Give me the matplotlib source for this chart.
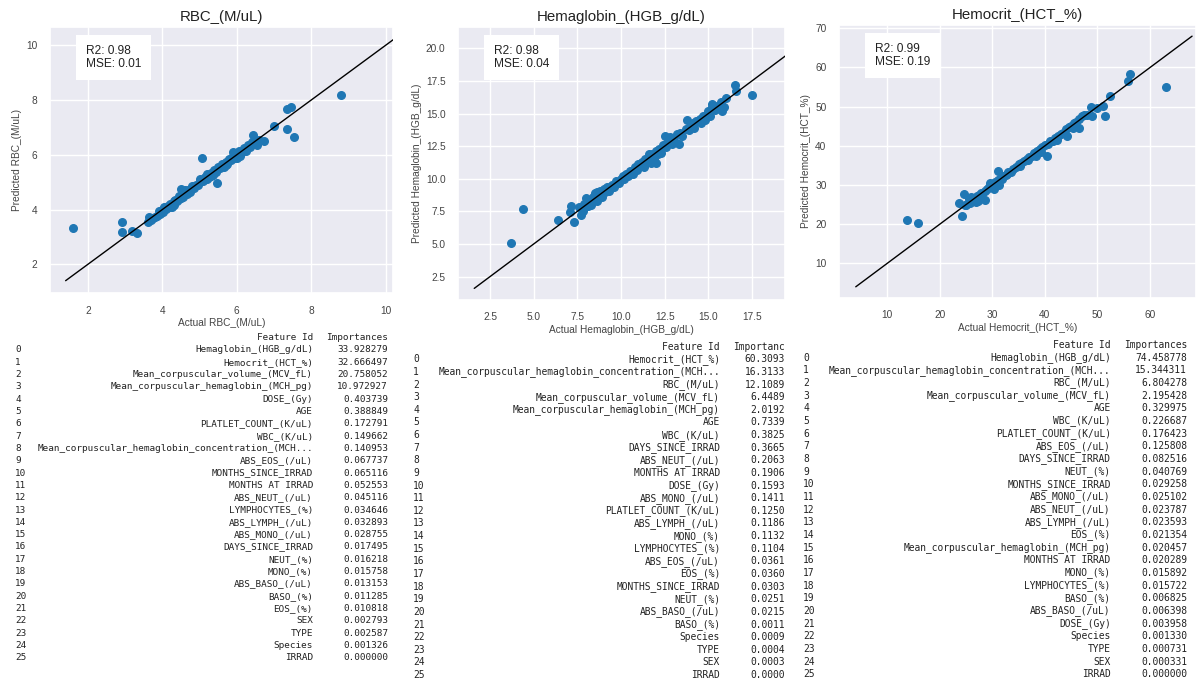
import matplotlib
matplotlib.use("Agg")
import matplotlib.pyplot as plt
import seaborn as sns

sns.set_theme(style="darkgrid")
plt.rcParams["font.family"] = ["Liberation Sans", "DejaVu Sans"]

W, H = 1196, 679

# ---- scatter data (actual vs predicted) ----
rbc_actual = [1.6, 2.92, 2.91, 3.19, 3.32, 5.06, 5.46, 7.01, 7.35, 7.46, 7.36, 7.55, 8.8, 6.72, 6.45,
              3.62, 3.65, 3.7, 3.75, 3.8, 3.85, 3.95, 4.0, 4.02, 4.05, 4.1, 4.15, 4.2, 4.2, 4.3, 4.3,
              4.35, 4.4, 4.45, 4.5, 4.5, 4.55, 4.6, 4.6, 4.65, 4.7, 4.75, 4.8, 4.85, 4.9, 4.95, 5.0,
              5.0, 5.1, 5.15, 5.2, 5.2, 5.25, 5.3, 5.35, 5.4, 5.45, 5.5, 5.55, 5.6, 5.65, 5.7, 5.75,
              5.8, 5.85, 5.9, 5.9, 5.95, 6.0, 6.05, 6.1, 6.15, 6.2, 6.25, 6.3, 6.35, 6.4, 6.45, 6.5,
              6.6, 6.55, 3.9, 4.25, 4.45, 5.3, 5.7, 6.0]
rbc_pred = [3.31, 3.55, 3.19, 3.23, 3.13, 5.89, 4.98, 7.06, 7.69, 7.75, 6.96, 6.66, 8.18, 6.5, 6.72,
            3.55, 3.72, 3.62, 3.7, 3.72, 3.78, 3.85, 4.0, 3.9, 4.1, 4.02, 4.12, 4.2, 4.08, 4.3, 4.15,
            4.35, 4.3, 4.5, 4.75, 4.42, 4.45, 4.6, 4.7, 4.55, 4.72, 4.65, 4.85, 4.78, 4.9, 4.88, 5.05,
            5.12, 5.05, 5.2, 5.3, 5.12, 5.2, 5.35, 5.25, 5.45, 5.38, 5.55, 5.5, 5.65, 5.55, 5.75, 5.65,
            5.85, 5.8, 5.95, 6.1, 5.88, 6.05, 6.15, 5.95, 6.1, 6.25, 6.15, 6.35, 6.3, 6.45, 6.4, 6.55,
            6.55, 6.35, 3.95, 4.1, 4.4, 5.22, 5.62, 5.9]

hgb_actual = [3.7, 4.4, 6.4, 7.1, 7.15, 7.3, 7.7,
              7.6, 7.8, 7.9, 8.0, 8.1, 8.2, 8.3, 8.4, 8.5, 8.6, 8.7, 8.8, 8.9, 9.0, 9.1, 9.2, 9.3,
              9.5, 9.6, 9.7, 9.9, 10.0, 10.1, 10.2, 10.3, 10.4, 10.5, 10.6, 10.7, 10.8, 10.9, 11.0,
              11.1, 11.2, 11.3, 11.4, 11.5, 11.6, 11.7, 11.8, 11.9, 12.0, 12.0, 12.1, 12.2, 12.3,
              12.4, 12.5, 12.6, 12.7, 12.8, 12.9, 13.0, 13.1, 13.2, 13.3, 13.4, 13.5, 13.7, 13.8,
              13.9, 14.0, 14.1, 14.2, 14.3, 14.5, 14.6, 14.7, 14.8, 14.9, 15.0, 15.1, 15.2, 15.2,
              15.4, 15.5, 15.6, 15.7, 15.8, 15.9, 16.0, 16.55, 16.6, 17.5, 8.6, 9.4, 10.5, 11.6]
hgb_pred = [5.08, 7.65, 6.85, 7.45, 7.9, 6.7, 7.2,
            7.8, 7.5, 8.1, 8.55, 7.9, 8.3, 8.0, 8.6, 8.9, 8.3, 8.7, 9.1, 8.6, 9.2, 9.0, 9.35, 9.1,
            9.5, 9.4, 9.8, 9.7, 10.0, 10.2, 10.0, 10.4, 10.2, 10.6, 10.5, 10.4, 10.9, 10.7, 11.1,
            11.0, 11.3, 10.9, 11.5, 11.3, 11.7, 11.2, 11.9, 11.5, 12.1, 11.2, 11.9, 12.3, 12.0,
            12.6, 13.3, 12.4, 12.9, 13.2, 12.7, 13.1, 12.8, 13.4, 12.7, 13.5, 13.3, 13.8, 14.5,
            13.7, 14.1, 14.3, 13.9, 14.4, 14.6, 14.3, 14.8, 14.5, 15.0, 15.2, 14.8, 15.5, 15.7,
            15.3, 15.6, 15.4, 15.9, 15.2, 15.5, 16.2, 17.2, 16.7, 16.45, 9.0, 9.3, 10.4, 11.9]

hct_actual = [13.8, 15.8, 23.7, 24.6, 24.3, 24.8,
              25.0, 25.5, 25.8, 26.0, 26.3, 26.5, 26.8, 27.0, 27.2, 27.5, 27.8, 28.0, 28.6, 28.5,
              29.0, 29.3, 29.5, 29.8, 30.0, 30.3, 30.5, 30.8, 31.0, 31.1, 31.3, 31.5, 31.8, 32.0,
              32.5, 32.8, 33.0, 33.5, 34.0, 34.5, 35.0, 35.2, 35.5, 36.0, 36.5, 36.8, 37.0, 37.5,
              38.0, 38.3, 38.5, 39.0, 39.2, 39.5, 40.0, 40.3, 40.5, 41.0, 41.5, 42.0, 42.3, 42.5,
              43.0, 43.5, 44.0, 44.2, 44.5, 45.0, 45.3, 45.5, 46.0, 46.5, 46.5, 47.0, 47.5, 48.0,
              48.8, 48.9, 50.0, 51.1, 51.4, 52.3, 55.9, 56.2, 63.0]
hct_pred = [21.0, 20.4, 25.5, 27.8, 22.1, 24.8,
            25.0, 26.3, 25.5, 27.0, 26.0, 26.8, 25.6, 27.2, 26.0, 27.5, 28.0, 27.6, 26.2, 28.5,
            29.0, 29.6, 30.5, 29.6, 30.2, 29.0, 30.7, 30.2, 31.2, 33.6, 30.1, 31.6, 31.5, 32.2,
            32.5, 32.8, 33.3, 33.4, 34.1, 34.5, 35.3, 34.8, 35.6, 36.0, 36.6, 36.3, 37.2, 37.4,
            38.2, 37.5, 38.6, 39.2, 38.5, 39.6, 40.1, 37.4, 40.4, 41.2, 41.3, 42.1, 41.5, 42.6,
            43.1, 43.4, 44.2, 42.6, 44.8, 45.1, 44.5, 45.8, 46.2, 44.5, 46.8, 47.5, 47.8, 47.9,
            49.8, 47.6, 49.6, 50.2, 47.6, 52.6, 56.6, 58.3, 55.1]

titles = ["RBC_(M/uL)", "Hemaglobin_(HGB_g/dL)", "Hemocrit_(HCT_%)"]
scores = ["R2: 0.98\nMSE: 0.01", "R2: 0.98\nMSE: 0.04", "R2: 0.99\nMSE: 0.19"]

# ---- feature importance tables ----
rbc_features = ["Hemaglobin_(HGB_g/dL)", "Hemocrit_(HCT_%)", "Mean_corpuscular_volume_(MCV_fL)",
                "Mean_corpuscular_hemaglobin_(MCH_pg)", "DOSE_(Gy)", "AGE", "PLATLET_COUNT_(K/uL)",
                "WBC_(K/uL)", "Mean_corpuscular_hemaglobin_concentration_(MCH...", "ABS_EOS_(/uL)",
                "MONTHS_SINCE_IRRAD", "MONTHS AT IRRAD", "ABS_NEUT_(/uL)", "LYMPHOCYTES_(%)",
                "ABS_LYMPH_(/uL)", "ABS_MONO_(/uL)", "DAYS_SINCE_IRRAD", "NEUT_(%)", "MONO_(%)",
                "ABS_BASO_(/uL)", "BASO_(%)", "EOS_(%)", "SEX", "TYPE", "Species", "IRRAD"]
rbc_importances = [33.928279, 32.666497, 20.758052, 10.972927, 0.403739, 0.388849, 0.172791,
                   0.149662, 0.140953, 0.067737, 0.065116, 0.052553, 0.045116, 0.034646,
                   0.032893, 0.028755, 0.017495, 0.016218, 0.015758, 0.013153, 0.011285,
                   0.010818, 0.002793, 0.002587, 0.001326, 0.000000]

hgb_features = ["Hemocrit_(HCT_%)", "Mean_corpuscular_hemaglobin_concentration_(MCH...", "RBC_(M/uL)",
                "Mean_corpuscular_volume_(MCV_fL)", "Mean_corpuscular_hemaglobin_(MCH_pg)", "AGE",
                "WBC_(K/uL)", "DAYS_SINCE_IRRAD", "ABS_NEUT_(/uL)", "MONTHS AT IRRAD", "DOSE_(Gy)",
                "ABS_MONO_(/uL)", "PLATLET_COUNT_(K/uL)", "ABS_LYMPH_(/uL)", "MONO_(%)",
                "LYMPHOCYTES_(%)", "ABS_EOS_(/uL)", "EOS_(%)", "MONTHS_SINCE_IRRAD", "NEUT_(%)",
                "ABS_BASO_(/uL)", "BASO_(%)", "Species", "TYPE", "SEX", "IRRAD"]
hgb_importances = [60.3093, 16.3133, 12.1089, 6.4489, 2.0192, 0.7339, 0.3825, 0.3665, 0.2063,
                   0.1906, 0.1593, 0.1411, 0.1250, 0.1186, 0.1132, 0.1104, 0.0361, 0.0360,
                   0.0303, 0.0251, 0.0215, 0.0011, 0.0009, 0.0004, 0.0003, 0.0000]

hct_features = ["Hemaglobin_(HGB_g/dL)", "Mean_corpuscular_hemaglobin_concentration_(MCH...", "RBC_(M/uL)",
                "Mean_corpuscular_volume_(MCV_fL)", "AGE", "WBC_(K/uL)", "PLATLET_COUNT_(K/uL)",
                "ABS_EOS_(/uL)", "DAYS_SINCE_IRRAD", "NEUT_(%)", "MONTHS_SINCE_IRRAD", "ABS_MONO_(/uL)",
                "ABS_NEUT_(/uL)", "ABS_LYMPH_(/uL)", "EOS_(%)", "Mean_corpuscular_hemaglobin_(MCH_pg)",
                "MONTHS AT IRRAD", "MONO_(%)", "LYMPHOCYTES_(%)", "BASO_(%)", "ABS_BASO_(/uL)",
                "DOSE_(Gy)", "Species", "TYPE", "SEX", "IRRAD"]
hct_importances = [74.458778, 15.344311, 6.804278, 2.195428, 0.329975, 0.226687, 0.176423,
                   0.125808, 0.082516, 0.040769, 0.029258, 0.025102, 0.023787, 0.023593,
                   0.021354, 0.020457, 0.020289, 0.015892, 0.015722, 0.006825, 0.006398,
                   0.003958, 0.001330, 0.000731, 0.000331, 0.000000]

fig = plt.figure(figsize=(W / 100, H / 100), dpi=100)
fig.patch.set_facecolor("white")


def px_axes(left, top, right, bottom):
    return fig.add_axes([left / W, 1 - bottom / H, (right - left) / W, (bottom - top) / H])


panels = [
    dict(box=(50, 27, 393, 293), x=rbc_actual, y=rbc_pred, xlim=(0.98, 10.2), ylim=(0.95, 10.67),
         line=(1.4, 10.3), xt=[2, 4, 6, 8, 10], yt=[2, 4, 6, 8, 10], name="RBC_(M/uL)"),
    dict(box=(458, 27, 785, 300), x=hgb_actual, y=hgb_pred, xlim=(0.67, 19.39), ylim=(0.71, 21.63),
         line=(1.6, 20.6), xt=[2.5, 5, 7.5, 10, 12.5, 15, 17.5], yt=[2.5, 5, 7.5, 10, 12.5, 15, 17.5, 20],
         name="Hemaglobin_(HGB_g/dL)"),
    dict(box=(839, 25, 1196, 298), x=hct_actual, y=hct_pred, xlim=(0.81, 68.75), ylim=(1.14, 70.85),
         line=(4, 68), xt=[10, 20, 30, 40, 50, 60], yt=[10, 20, 30, 40, 50, 60, 70], name="Hemocrit_(HCT_%)"),
]

for i, p in enumerate(panels):
    ax = px_axes(*p["box"])
    ax.scatter(p["x"], p["y"], s=30, color="#1f77b4", zorder=2)
    ax.plot(p["line"], p["line"], color="black", lw=1, zorder=3)
    ax.set_xlim(p["xlim"])
    ax.set_ylim(p["ylim"])
    ax.set_xticks(p["xt"])
    ax.set_yticks(p["yt"])
    if i == 1:
        ax.set_xticklabels(["%.1f" % v for v in p["xt"]])
        ax.set_yticklabels(["%.1f" % v for v in p["yt"]])
    ax.tick_params(labelsize=7.3, colors="#444444", pad=3)
    ax.set_xlabel("Actual " + p["name"], fontsize=7.3, color="#444444", labelpad=2)
    ax.set_ylabel("Predicted " + p["name"], fontsize=7.3, color="#444444", labelpad=3)
    ax.set_title(titles[i], fontsize=10.8, color="#222222", pad=4)
    ax.annotate(scores[i], xy=(0, 1), xycoords="axes fraction", xytext=(36, -18),
                textcoords="offset pixels", ha="left", va="top", fontsize=8.6, color="#222222",
                linespacing=1.15,
                bbox=dict(boxstyle="square,pad=0.8", fc="white", ec="none"))

# ---- printed dataframes ----
tables = [
    dict(feat=rbc_features, imp=rbc_importances, fmt="%.6f", head="Importances",
         ix=15, fr=313, ir=388, hy=337.5, y0=350, dy=12.31, fs=6.73),
    dict(feat=hgb_features, imp=hgb_importances, fmt="%.4f", head="Importanc",
         ix=413, fr=720, ir=785, hy=346.7, y0=359.3, dy=12.63, fs=6.93),
    dict(feat=hct_features, imp=hct_importances, fmt="%.6f", head="Importances",
         ix=803, fr=1110.7, ir=1187, hy=345, y0=357.7, dy=12.66, fs=6.97),
]

mono = dict(family="DejaVu Sans Mono", color="#222222")
for t in tables:
    fig.text(t["fr"] / W, 1 - t["hy"] / H, "Feature Id", ha="right", va="center", fontsize=t["fs"], **mono)
    fig.text(t["ir"] / W, 1 - t["hy"] / H, t["head"], ha="right", va="center", fontsize=t["fs"], **mono)
    for k, (f, v) in enumerate(zip(t["feat"], t["imp"])):
        yy = 1 - (t["y0"] + k * t["dy"]) / H
        fig.text(t["ix"] / W, yy, str(k), ha="left", va="center", fontsize=t["fs"], **mono)
        fig.text(t["fr"] / W, yy, f, ha="right", va="center", fontsize=t["fs"], **mono)
        fig.text(t["ir"] / W, yy, t["fmt"] % v, ha="right", va="center", fontsize=t["fs"], **mono)

fig.savefig("out.png", dpi=100)
